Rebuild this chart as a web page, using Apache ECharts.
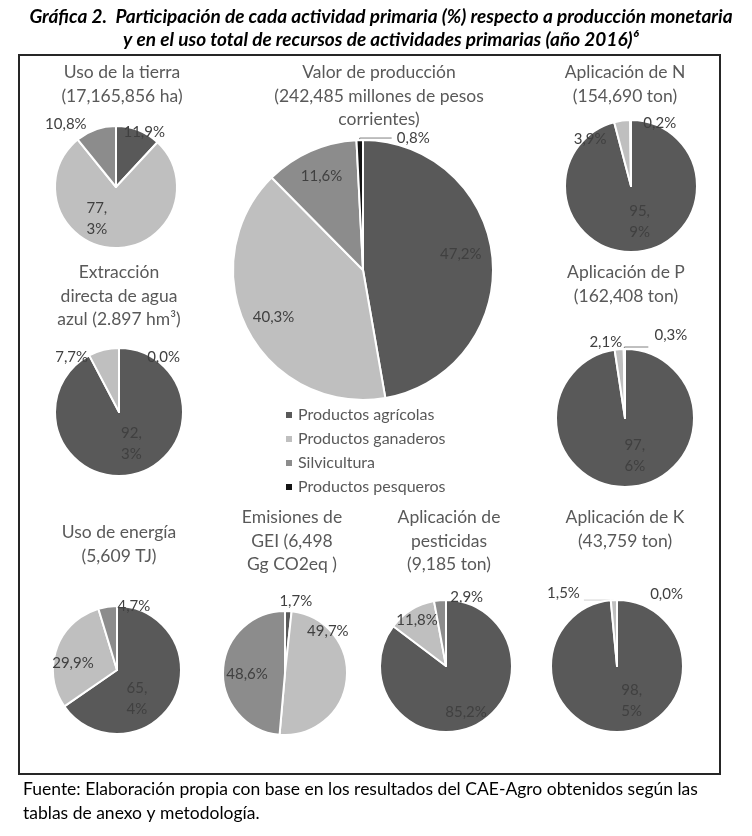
<!DOCTYPE html>
<html><head><meta charset="utf-8">
<script src="https://cdn.jsdelivr.net/npm/echarts@6/dist/echarts.min.js"></script>
<style>html,body{margin:0;padding:0;background:#fff}#c{width:752px;height:836px}</style>
</head><body><div id="c"></div>
<script>
// ---- data ----
const categories = ['Productos agrícolas', 'Productos ganaderos', 'Silvicultura', 'Productos pesqueros'];
const valorProduccion = [47.2, 40.3, 11.6, 0.8];
const usoTierra = [11.9, 77.3, 10.8];
const extraccionAgua = [92.3, 7.7, 0.0];
const aplicacionN = [95.9, 3.9, 0.2];
const aplicacionP = [97.6, 2.1, 0.3];
const usoEnergia = [65.4, 29.9, 4.7];
const emisionesGEI = [1.7, 49.7, 48.6];
const aplicacionPesticidas = [85.2, 11.8, 2.9];
const aplicacionK = [98.5, 1.5, 0.0];

const mainTitle = ['Gráfica 2.  Participación de cada actividad primaria (%) respecto a producción monetaria',
                   'y en el uso total de recursos de actividades primarias (año 2016)⁶'];
const footerText = ['Fuente: Elaboración propia con base en los resultados del CAE-Agro obtenidos según las',
                    'tablas de anexo y metodología.'];

// ---- layout / style ----
const FONT = 'Lato, "Open Sans", sans-serif';
const palette = ['#595959', '#bfbfbf', '#8c8c8c', '#141414'];

// lines: index -> [labelLine length, length2, line colour]
const pies = [
  {title: 'Uso de la tierra\n(17,165,856 ha)', values: usoTierra, tx: 122, ty: 61,
   center: [116, 187], r: 61, wrap: [1], lines: {}, adj: [[16, -24], [-18, -2], [-39, -31]]},
  {title: 'Valor de producción\n(242,485 millones de pesos\ncorrientes)', values: valorProduccion, tx: 379, ty: 61,
   center: [363, 270], r: 130, wrap: [], lines: {3: [2, -32, '#808080']}, adj: [[30, -10], [-29, 16], [-14, -32], [43, 0]]},
  {title: 'Aplicación de N\n(154,690 ton)', values: aplicacionN, tx: 625, ty: 61,
   center: [631, 186], r: 66, wrap: [0], lines: {}, adj: [[4, 0], [-36, -11], [29, -27]]},
  {title: 'Extracción\ndirecta de agua\nazul (2.897 hm³)', values: extraccionAgua, tx: 119, ty: 261,
   center: [119, 412], r: 64, wrap: [0], lines: {2: [-30, -18, '#9a9a9a']}, adj: [[4, -2], [-39, -21], [48, -21]]},
  {title: 'Aplicación de P\n(162,408 ton)', values: aplicacionP, tx: 626, ty: 261,
   center: [625, 418], r: 69, wrap: [0], lines: {2: [2, -24, '#808080']}, adj: [[7, 0], [-16, -38], [44, -12]]},
  {title: 'Uso de energía\n(5,609 TJ)', values: usoEnergia, tx: 119, ty: 521,
   center: [117, 670], r: 64, wrap: [0], lines: {}, adj: [[-11, 12], [-11, 5], [22, -29]]},
  {title: 'Emisiones de\nGEI (6,498\nGg CO2eq )', values: emisionesGEI, tx: 292, ty: 506,
   center: [285, 673], r: 62, wrap: [], lines: {}, adj: [[9, -38], [9, -45], [-4, 3]]},
  {title: 'Aplicación de\npesticidas\n(9,185 ton)', values: aplicacionPesticidas, tx: 449, ty: 506,
   center: [446, 666], r: 66, wrap: [], lines: {}, adj: [[4, 14], [-10, -15], [24, -33]]},
  {title: 'Aplicación de K\n(43,759 ton)', values: aplicacionK, tx: 625, ty: 506,
   center: [617, 666], r: 66, wrap: [0], lines: {1: [0, 30, '#d0d0d0'], 2: [-12, -30, '#9a9a9a']},
   adj: [[13, -1], [1, -7], [41, -18]]}
];

function fmt(v, wrap) {
  const s = v.toFixed(1).replace('.', ',');
  const parts = s.split(',');
  return wrap ? parts[0] + ',\n' + parts[1] + '%' : s + '%';
}

const series = pies.map(function (p) {
  return {
    type: 'pie', center: p.center, radius: p.r, startAngle: 90, clockwise: true,
    avoidLabelOverlap: false, silent: true, animation: false,
    emphasis: {disabled: true},
    itemStyle: {borderColor: '#ffffff', borderWidth: 2},
    label: {show: true, position: 'inside', color: '#404040', fontFamily: FONT, fontSize: 15, lineHeight: 21},
    labelLine: {show: false},
    labelLayout: function (params) {
      const a = p.adj[params.dataIndex];
      return a ? {dx: a[0], dy: a[1]} : {};
    },
    data: p.values.map(function (v, i) {
      const ln = p.lines[i];
      return {
        name: categories[i], value: v,
        itemStyle: {color: palette[i]},
        label: {position: ln ? 'outside' : 'inside', formatter: fmt(v, p.wrap.indexOf(i) >= 0)},
        labelLine: ln ? {show: true, length: ln[0], length2: ln[1], smooth: false,
                         maxSurfaceAngle: 180, minTurnAngle: 0,
                         lineStyle: {color: ln[2], width: 1}} : {show: false}
      };
    })
  };
});

const graphics = [
  {type: 'rect', silent: true, z: 0, shape: {x: 19, y: 55, width: 701, height: 719},
   style: {fill: 'none', stroke: '#262626', lineWidth: 2}},
  {type: 'text', x: 381, y: 17, style: {text: mainTitle[0], font: 'italic bold 19px Lato', fill: '#000',
    align: 'center', verticalAlign: 'middle', textAlign: 'center', textVerticalAlign: 'middle'}},
  {type: 'text', x: 381, y: 40, style: {text: mainTitle[1], font: 'italic bold 19px Lato', fill: '#000',
    align: 'center', verticalAlign: 'middle', textAlign: 'center', textVerticalAlign: 'middle'}},
  {type: 'text', x: 23, y: 789, style: {text: footerText[0], font: '17.5px Lato', fill: '#000',
    align: 'left', verticalAlign: 'middle', textAlign: 'left', textVerticalAlign: 'middle'}},
  {type: 'text', x: 23, y: 813, style: {text: footerText[1], font: '17.5px Lato', fill: '#000',
    align: 'left', verticalAlign: 'middle', textAlign: 'left', textVerticalAlign: 'middle'}}
];
pies.forEach(function (p) {
  graphics.push({type: 'text', x: p.tx, y: p.ty, style: {text: p.title, font: '17.5px Lato', fill: '#595959',
    lineHeight: 23.5, align: 'center', verticalAlign: 'top', textAlign: 'center', textVerticalAlign: 'top'}});
});

const chart = echarts.init(document.getElementById('c'), null, {renderer: 'canvas', width: 752, height: 836});
chart.setOption({
  backgroundColor: '#ffffff',
  animation: false,
  color: palette,
  legend: {
    orient: 'vertical', left: 279, top: 402, itemWidth: 8, itemHeight: 8, itemGap: 8, icon: 'rect',
    selectedMode: false, data: categories,
    textStyle: {fontFamily: FONT, fontSize: 16, color: '#595959', lineHeight: 16}
  },
  graphic: graphics,
  series: series
});
</script>
</body></html>
